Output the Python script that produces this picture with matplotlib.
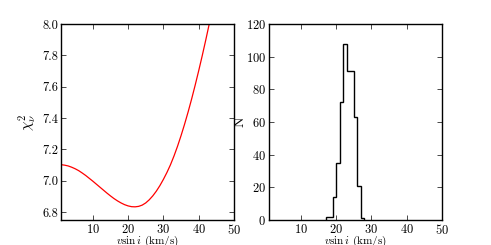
import matplotlib
matplotlib.use("Agg")
import matplotlib.pyplot as plt

# chi^2 curve
vsini = [1, 2, 3, 4, 5, 6, 7, 8, 9, 10, 11, 12, 13, 14, 15, 16, 17, 18, 19, 20,
         21, 22, 23, 24, 25, 26, 27, 28, 29, 30, 31, 32, 33, 34, 35, 36, 37, 38,
         39, 40, 41, 42, 43, 44]
chi2 = [7.103, 7.100, 7.095, 7.087, 7.077, 7.065, 7.050, 7.034, 7.016, 6.998,
        6.979, 6.960, 6.941, 6.922, 6.904, 6.887, 6.872, 6.859, 6.848, 6.840,
        6.835, 6.834, 6.837, 6.845, 6.859, 6.879, 6.904, 6.934, 6.969, 7.009,
        7.053, 7.102, 7.158, 7.220, 7.288, 7.361, 7.439, 7.522, 7.610, 7.702,
        7.798, 7.898, 8.002, 8.110]

# histogram of vsini samples
bin_edges = [17, 18, 19, 20, 21, 22, 23, 24, 25, 26, 27, 28]
counts = [2, 2, 14, 35, 72, 108, 91, 91, 63, 21, 1]

xticks = [10, 20, 30, 40, 50]
yticks_left = [6.8, 7.0, 7.2, 7.4, 7.6, 7.8, 8.0]
yticks_right = [0, 20, 40, 60, 80, 100, 120]

plt.rcParams['font.family'] = ['cmr10', 'DejaVu Serif']
plt.rcParams['mathtext.fontset'] = 'cm'
plt.rcParams['axes.formatter.use_mathtext'] = True

fig = plt.figure(figsize=(4.91, 2.45), dpi=100)
ax1 = fig.add_axes([0.1242, 0.102, 0.3524, 0.800])
ax2 = fig.add_axes([0.5479, 0.102, 0.3523, 0.800])

ax1.plot(vsini, chi2, color='red', lw=0.9)
ax1.set_xlim(1, 50)
ax1.set_ylim(6.75, 8.0)
ax1.set_xticks(xticks)
ax1.set_yticks(yticks_left)
ax1.set_yticklabels([f"{v:.1f}" for v in yticks_left])
ax1.set_xlabel(r'$v\sin i$ (km/s)', fontsize=8)
ax1.set_ylabel(r'$\chi^2_\nu$', fontsize=11)

ax2.stairs(counts, bin_edges, baseline=0, fill=False, color='black', lw=1.0)
ax2.set_xlim(1, 50)
ax2.set_ylim(0, 120)
ax2.set_xticks(xticks)
ax2.set_yticks(yticks_right)
ax2.set_xlabel(r'$v\sin i$ (km/s)', fontsize=8)
ax2.set_ylabel('N', fontsize=10)

for ax in (ax1, ax2):
    ax.tick_params(direction='in', top=True, right=True, length=3.5, width=0.5,
                   labelsize=9, pad=2)
    for s in ax.spines.values():
        s.set_linewidth(1.0)
    ax.xaxis.set_label_coords(0.5, -0.072)
    ax.yaxis.set_label_coords(-0.128, 0.5)

fig.savefig('out.png', dpi=100)
